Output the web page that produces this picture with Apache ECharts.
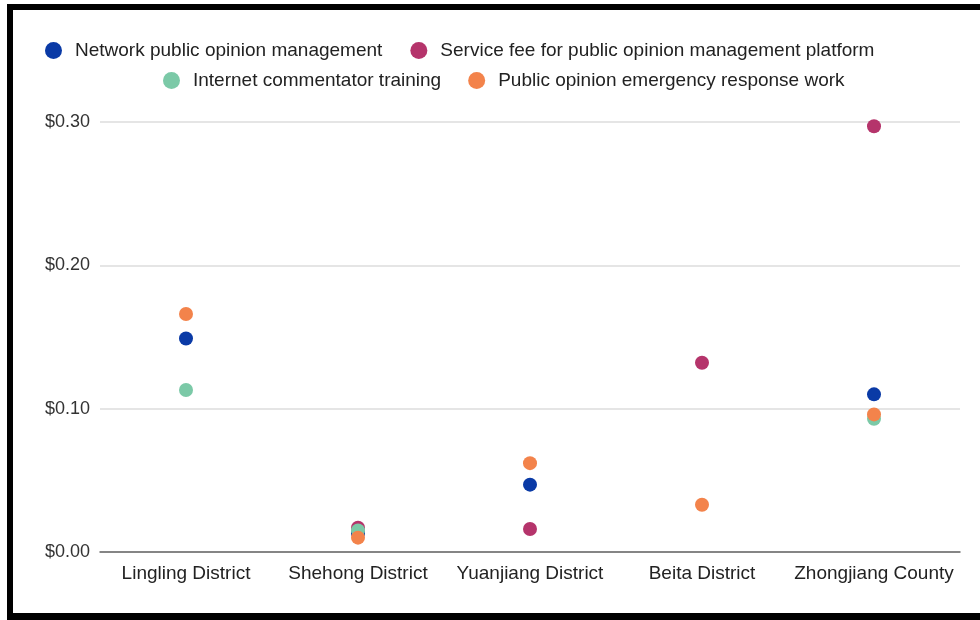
<!DOCTYPE html>
<html><head><meta charset="utf-8">
<script src="https://cdn.jsdelivr.net/npm/echarts@6/dist/echarts.min.js"></script>
<style>html,body{margin:0;padding:0;background:#fff}#c{width:980px;height:620px}</style>
</head><body><div id="c"></div>
<script>
const categories = ["Lingling District","Shehong District","Yuanjiang District","Beita District","Zhongjiang County"];
const seriesNames = ["Network public opinion management","Service fee for public opinion management platform","Internet commentator training","Public opinion emergency response work"];
const networkMgmt = [0.149, 0.013, 0.047, null, 0.110];
const serviceFee = [null, 0.017, 0.016, 0.132, 0.297];
const commentatorTraining = [0.113, 0.015, null, null, 0.093];
const emergencyResponse = [0.166, 0.010, 0.062, 0.033, 0.096];
const yTicks = [0, 0.1, 0.2, 0.3];
const colors = ["#0a3aa6", "#b5346b", "#7bc9a7", "#f3834b"];
const values = [networkMgmt, serviceFee, commentatorTraining, emergencyResponse];

const chart = echarts.init(document.getElementById('c'));
const font = "Liberation Sans, Arial, sans-serif";
const legendText = {fontSize: 19, color: '#222', fontFamily: font, padding: [0, 0, 0, 8]};
chart.setOption({
  animation: false,
  color: colors,
  textStyle: {fontFamily: font},
  graphic: [
    {type: 'rect', shape: {x: 7, y: 4, width: 973, height: 6}, style: {fill: '#000'}},
    {type: 'rect', shape: {x: 7, y: 4, width: 6, height: 616}, style: {fill: '#000'}},
    {type: 'rect', shape: {x: 7, y: 613, width: 973, height: 7}, style: {fill: '#000'}}
  ],
  legend: [
    {data: [seriesNames[0], seriesNames[1]], left: 40, top: 36, icon: 'circle', itemWidth: 17, itemHeight: 17, itemGap: 28,
     textStyle: legendText},
    {data: [seriesNames[2], seriesNames[3]], left: 158, top: 66, icon: 'circle', itemWidth: 17, itemHeight: 17, itemGap: 27,
     textStyle: legendText}
  ],
  grid: {left: 100, right: 20, top: 122, bottom: 68, containLabel: false},
  xAxis: {
    type: 'category', data: categories, boundaryGap: true,
    axisLine: {lineStyle: {color: '#666', width: 1.5}},
    axisTick: {show: false},
    axisLabel: {fontSize: 19, color: '#222', margin: 12, fontFamily: font, interval: 0}
  },
  yAxis: {
    type: 'value', min: yTicks[0], max: yTicks[yTicks.length - 1], interval: 0.1,
    axisLine: {show: false}, axisTick: {show: false},
    splitLine: {lineStyle: {color: '#dcdcdc', width: 1.5}},
    axisLabel: {fontSize: 18, color: '#333', margin: 10, fontFamily: font,
      formatter: v => '$' + v.toFixed(2)}
  },
  series: seriesNames.map((n, i) => ({
    name: n, type: 'scatter', data: values[i], symbol: 'circle', symbolSize: 14,
    itemStyle: {color: colors[i], opacity: 1}
  }))
});
</script></body></html>
